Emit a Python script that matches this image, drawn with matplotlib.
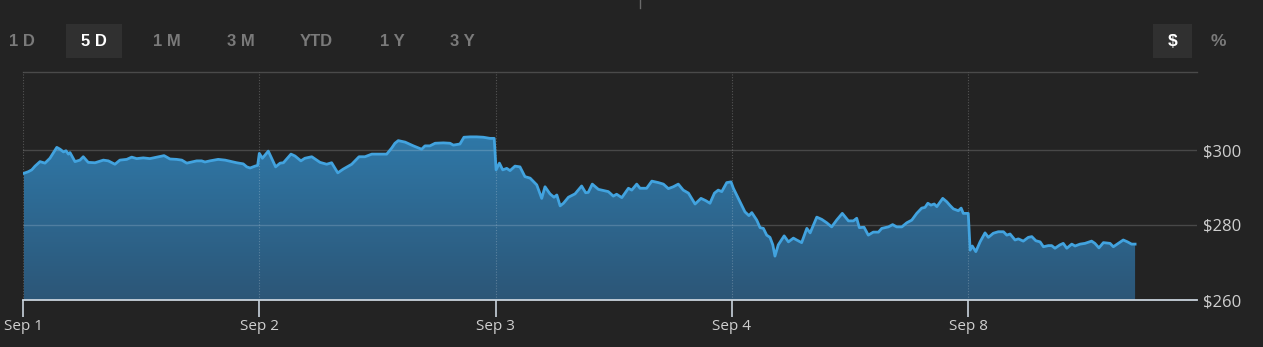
import matplotlib
matplotlib.use("Agg")
import matplotlib.pyplot as plt
import matplotlib.patches as mpatches
from matplotlib.colors import LinearSegmentedColormap
import numpy as np

# ---- data (time in trading days since Sep 1 open, price in $) ----
day_labels = ["Sep 1", "Sep 2", "Sep 3", "Sep 4", "Sep 8"]
price_ticks = [260, 280, 300]
price_tick_labels = ["$260", "$280", "$300"]
range_buttons = ["1 D", "5 D", "1 M", "3 M", "YTD", "1 Y", "3 Y"]
active_range = "5 D"

t = [0.004, 0.022, 0.037, 0.051, 0.072, 0.093, 0.114, 0.143, 0.157, 0.171,
     0.182, 0.192, 0.199, 0.220, 0.241, 0.255, 0.276, 0.305, 0.340, 0.361,
     0.389, 0.410, 0.439, 0.460, 0.481, 0.509, 0.537, 0.566, 0.597, 0.622,
     0.650, 0.672, 0.693, 0.714, 0.735, 0.756, 0.770, 0.791, 0.826, 0.855,
     0.876, 0.904, 0.932, 0.947, 0.961, 0.982, 0.993, 1.000, 1.013, 1.038,
     1.052, 1.069, 1.088, 1.102, 1.134, 1.151, 1.176, 1.193, 1.222, 1.236,
     1.257, 1.285, 1.306, 1.332, 1.355, 1.391, 1.422, 1.447, 1.476, 1.504,
     1.539, 1.560, 1.574, 1.588, 1.617, 1.652, 1.687, 1.701, 1.722, 1.744,
     1.779, 1.807, 1.821, 1.849, 1.866, 1.892, 1.920, 1.948, 1.976, 1.994,
     2.002, 2.016, 2.030, 2.047, 2.061, 2.082, 2.103, 2.124, 2.146, 2.174,
     2.195, 2.209, 2.230, 2.247, 2.259, 2.273, 2.287, 2.308, 2.336, 2.364,
     2.381, 2.392, 2.409, 2.435, 2.463, 2.477, 2.498, 2.512, 2.534, 2.562,
     2.576, 2.597, 2.611, 2.639, 2.661, 2.689, 2.710, 2.731, 2.752, 2.773,
     2.794, 2.816, 2.844, 2.869, 2.889, 2.907, 2.926, 2.942, 2.957, 2.978,
     2.996, 3.006, 3.027, 3.055, 3.072, 3.084, 3.105, 3.119, 3.133, 3.147,
     3.161, 3.173, 3.182, 3.196, 3.221, 3.239, 3.260, 3.274, 3.295, 3.317,
     3.331, 3.359, 3.380, 3.401, 3.422, 3.443, 3.467, 3.493, 3.514, 3.528,
     3.539, 3.559, 3.577, 3.598, 3.620, 3.634, 3.662, 3.680, 3.697, 3.719,
     3.740, 3.761, 3.782, 3.803, 3.817, 3.829, 3.842, 3.856, 3.867, 3.892,
     3.909, 3.923, 3.937, 3.958, 3.970, 3.979, 4.000, 4.008, 4.017, 4.032,
     4.050, 4.071, 4.085, 4.106, 4.127, 4.149, 4.163, 4.177, 4.198, 4.212,
     4.233, 4.254, 4.269, 4.286, 4.304, 4.318, 4.339, 4.353, 4.367, 4.388,
     4.402, 4.417, 4.438, 4.452, 4.473, 4.494, 4.522, 4.536, 4.553, 4.572,
     4.600, 4.614, 4.635, 4.656, 4.674, 4.691, 4.706]

price = [293.8, 294.2, 294.7, 295.7, 296.9, 296.5, 297.8, 300.7, 300.2, 299.5,
         299.8, 298.9, 299.3, 296.9, 297.3, 298.2, 296.7, 296.6, 297.3, 297.1,
         296.2, 297.3, 297.5, 298.1, 297.7, 297.9, 297.7, 298.1, 298.5, 297.6,
         297.5, 297.3, 296.5, 296.8, 297.1, 297.1, 296.8, 297.1, 297.5, 297.3,
         297.0, 296.6, 296.3, 295.5, 295.2, 295.7, 295.9, 299.1, 297.8, 299.7,
         297.8, 295.5, 296.5, 296.6, 298.9, 298.4, 297.1, 297.8, 298.2, 297.6,
         296.7, 296.2, 296.6, 293.9, 294.9, 296.2, 298.2, 298.2, 298.9, 298.9,
         298.9, 300.5, 301.8, 302.5, 302.1, 301.1, 300.2, 301.1, 301.1, 301.8,
         301.9, 301.8, 301.3, 301.6, 303.4, 303.5, 303.5, 303.4, 303.1, 303.1,
         294.7, 296.5, 294.7, 295.1, 294.5, 295.7, 295.5, 292.9, 292.5, 290.7,
         287.1, 290.2, 288.3, 287.4, 288.0, 285.1, 285.8, 287.4, 288.3, 290.4,
         288.6, 288.7, 290.9, 289.5, 289.1, 288.9, 287.7, 288.2, 287.3, 289.8,
         289.3, 290.9, 289.8, 289.8, 291.7, 291.3, 290.9, 289.7, 290.2, 290.9,
         289.3, 288.5, 285.6, 287.1, 286.5, 285.8, 288.5, 289.3, 288.9, 291.3,
         291.5, 289.8, 287.1, 283.5, 282.5, 283.3, 281.3, 279.3, 279.1, 277.3,
         276.7, 274.7, 271.7, 274.7, 277.1, 275.5, 276.5, 276.0, 275.3, 279.1,
         277.9, 282.1, 281.5, 280.6, 279.5, 281.3, 283.1, 281.1, 281.1, 281.8,
         279.3, 279.4, 277.3, 278.1, 278.1, 279.1, 279.5, 280.1, 279.5, 279.5,
         280.6, 281.3, 283.1, 284.5, 284.7, 285.8, 285.3, 285.6, 284.9, 287.1,
         286.2, 285.2, 284.3, 283.8, 284.5, 283.1, 283.1, 273.3, 274.4, 272.9,
         275.5, 277.9, 276.7, 277.8, 278.2, 278.2, 277.3, 277.6, 276.0, 276.3,
         275.7, 276.7, 276.9, 275.8, 275.5, 274.2, 274.5, 274.5, 273.8, 274.7,
         275.1, 273.8, 274.9, 274.4, 274.9, 275.1, 275.7, 275.1, 273.9, 275.3,
         275.1, 274.2, 275.1, 276.0, 275.5, 274.9, 274.9]

# ---- styling ----
W, H = 1263, 347
BG = "#232323"
LINE = "#42a3df"
GRID = "#4a4a4a"
TXT = "#cfcfcf"

fig = plt.figure(figsize=(W / 100, H / 100), dpi=100, facecolor=BG)
ax = fig.add_axes([23 / W, 47 / H, 1174 / W, 228 / H], facecolor=BG)

ymin, ymax = 260, 320.8
xmax = 4.968
ax.set_xlim(0, xmax)
ax.set_ylim(ymin, ymax)

t_arr = np.array(t)
p_arr = np.array(price)

# gradient fill under the line
poly = ax.fill_between(t_arr, p_arr, ymin, color="none", lw=0, zorder=2)
cmap = LinearSegmentedColormap.from_list("g", ["#2c5677", "#2f79a9"])
grad = np.linspace(0, 1, 256).reshape(-1, 1)
im = ax.imshow(grad, extent=[0, xmax, ymin, 305], origin="lower", aspect="auto",
               cmap=cmap, zorder=2)
path = poly.get_paths()[0]
im.set_clip_path(path, transform=ax.transData)

ax.plot(t_arr, p_arr, color=LINE, lw=2.0, zorder=4, solid_joinstyle="round")

# grid (semi-transparent so it reads lighter over the fill)
for y in price_ticks[1:]:
    ax.axhline(y, color="white", alpha=0.17, lw=1.0, zorder=3)
for d in range(len(day_labels)):
    ax.axvline(d, color="white", alpha=0.22, lw=0.8, ls=(0, (1, 1.5)), zorder=3)

for s in ["left", "right"]:
    ax.spines[s].set_visible(False)
ax.spines["top"].set_color(GRID)
ax.spines["top"].set_linewidth(1.0)
ax.spines["bottom"].set_color("#c9d3dc")
ax.spines["bottom"].set_linewidth(1.3)
ax.spines["bottom"].set_zorder(5)

ax.set_xticks(range(len(day_labels)))
ax.set_xticklabels(day_labels)
ax.tick_params(axis="x", length=12, width=1.2, color="#c9d3dc", colors=TXT,
               labelsize=11, pad=2)
for lab in ax.get_xticklabels():
    lab.set_family("Open Sans")
    lab.set_color(TXT)

ax.yaxis.tick_right()
ax.set_yticks(price_ticks)
ax.set_yticklabels(price_tick_labels)
ax.tick_params(axis="y", length=0, pad=4, labelsize=12, colors=TXT)
for lab in ax.get_yticklabels():
    lab.set_family("Open Sans")

# ---- top buttons ----
btn_x = [22, 94, 167, 241, 316, 392, 462]
for lbl, cx in zip(range_buttons, btn_x):
    if lbl == active_range:
        fig.patches.append(mpatches.Rectangle((66 / W, 1 - 58 / H), 56 / W, 34 / H,
                                              transform=fig.transFigure,
                                              facecolor="#303030", edgecolor="none"))
        col = "#ffffff"
    else:
        col = "#7a7a7a"
    fig.text(cx / W, 1 - 41 / H, lbl, ha="center", va="center", color=col,
             fontsize=12, fontweight="bold", family="Liberation Sans")

fig.patches.append(mpatches.Rectangle((1153 / W, 1 - 58 / H), 39 / W, 34 / H,
                                      transform=fig.transFigure,
                                      facecolor="#303030", edgecolor="none"))
fig.text(1172.5 / W, 1 - 41 / H, "$", ha="center", va="center", color="#ffffff",
         fontsize=12.5, fontweight="bold", family="Liberation Sans")
fig.text(1218 / W, 1 - 41 / H, "%", ha="center", va="center", color="#7a7a7a",
         fontsize=12.5, fontweight="bold", family="Liberation Sans")

# small marker at top centre
fig.add_artist(plt.Line2D([640 / W, 640 / W], [1, 1 - 8 / H], color="#6a6a6a",
                          lw=1, transform=fig.transFigure))

fig.savefig("out.png", dpi=100, facecolor=BG)
